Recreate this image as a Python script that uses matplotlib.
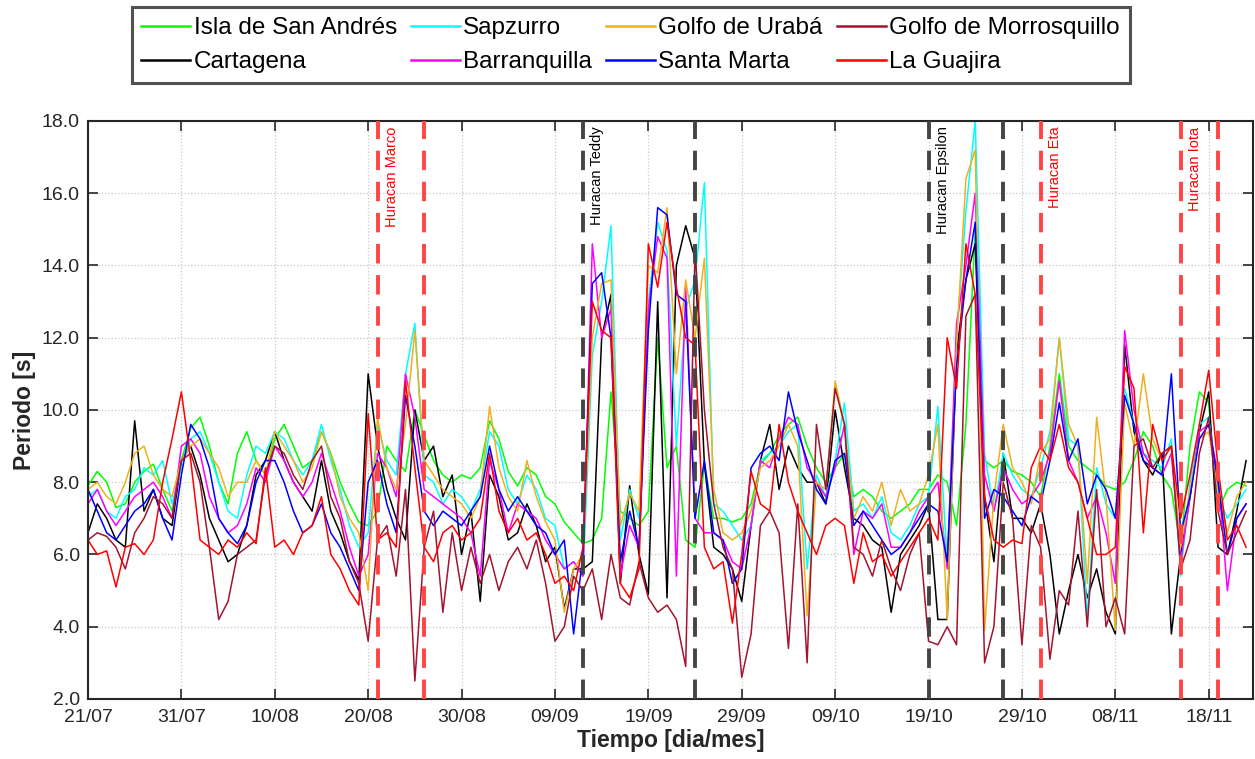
import matplotlib
matplotlib.use('Agg')
import matplotlib.pyplot as plt
import matplotlib.dates as mdates
import numpy as np
import pandas as pd

plt.rcParams['font.family'] = ['Liberation Sans', 'DejaVu Sans']

# daily wave period [s], 21/07/2020 .. 22/11/2020
fechas = pd.date_range('2020-07-21', periods=125, freq='D')

san_andres = [7.9, 8.3, 8.0, 7.3, 7.4, 8.0, 8.3, 8.5, 7.8, 7.2,
              8.6, 9.5, 9.8, 9.0, 8.0, 7.4, 8.8, 9.4, 8.6, 8.2,
              9.2, 9.6, 9.0, 8.4, 8.6, 9.4, 8.8, 8.0, 7.4, 6.9,
              6.8, 7.2, 9.0, 8.6, 8.3, 10.0, 9.3, 8.6, 8.2, 8.0,
              8.2, 8.1, 8.4, 9.7, 9.2, 8.3, 7.9, 8.4, 8.2, 7.6,
              7.4, 6.9, 6.6, 6.3, 6.4, 7.0, 10.5, 7.2, 7.0, 6.8,
              7.2, 12.0, 8.4, 9.0, 6.4, 6.2, 8.5, 7.0, 7.0, 6.9,
              7.0, 7.4, 8.5, 8.8, 9.3, 9.6, 9.8, 9.0, 8.4, 8.0,
              8.4, 8.8, 7.6, 7.8, 7.6, 7.2, 7.0, 7.2, 7.4, 7.8,
              7.8, 8.2, 8.0, 6.8, 9.6, 15.0, 8.6, 8.4, 8.6, 8.3,
              8.2, 8.0, 7.6, 9.0, 11.0, 9.0, 8.6, 8.4, 8.2, 7.9,
              7.8, 8.0, 8.6, 9.4, 9.0, 8.2, 7.8, 6.2, 9.0, 10.5,
              10.2, 7.2, 7.8, 8.0, 7.9]

cartagena = [6.6, 7.4, 7.0, 6.4, 6.2, 9.7, 7.2, 7.8, 7.0, 6.8,
             8.6, 9.0, 8.2, 7.0, 6.4, 5.8, 6.0, 6.8, 8.2, 8.6,
             9.4, 8.6, 8.0, 7.6, 7.2, 8.6, 7.2, 6.6, 5.8, 5.3,
             11.0, 9.0, 7.8, 7.0, 6.4, 10.0, 8.6, 9.0, 7.6, 8.2,
             6.0, 7.2, 4.7, 8.2, 7.6, 6.4, 6.6, 7.4, 6.8, 5.8,
             6.2, 4.5, 5.6, 5.6, 5.8, 12.0, 13.2, 5.2, 7.9, 6.0,
             4.9, 13.0, 4.8, 14.0, 15.1, 14.2, 8.5, 6.2, 6.0, 5.6,
             4.7, 6.8, 8.6, 9.6, 7.8, 9.0, 8.4, 8.0, 8.0, 7.4,
             10.0, 8.4, 7.0, 6.8, 6.4, 6.2, 4.4, 6.0, 6.4, 6.8,
             7.4, 4.2, 4.2, 11.6, 13.6, 14.6, 7.6, 5.8, 8.8, 7.0,
             7.0, 6.6, 7.4, 6.0, 3.8, 5.0, 6.0, 4.8, 5.6, 4.4,
             3.8, 11.8, 9.4, 8.6, 8.2, 8.8, 3.8, 6.0, 7.6, 9.4,
             10.5, 6.2, 6.0, 7.2, 8.6]

sapzurro = [7.6, 7.8, 7.2, 7.0, 7.6, 7.8, 8.4, 8.2, 8.6, 7.4,
            8.4, 9.2, 9.4, 8.8, 8.0, 7.2, 7.0, 8.2, 9.0, 8.8,
            9.4, 9.2, 8.6, 8.2, 8.6, 9.6, 8.6, 7.8, 6.8, 6.2,
            6.6, 9.6, 8.6, 8.2, 11.0, 12.4, 8.2, 8.0, 7.4, 7.8,
            7.6, 7.2, 7.8, 9.4, 9.0, 7.8, 7.4, 8.2, 7.8, 7.0,
            6.8, 5.6, 5.8, 5.4, 11.5, 13.0, 15.1, 6.4, 7.8, 7.0,
            13.0, 15.2, 14.4, 9.0, 12.8, 13.6, 16.3, 7.4, 7.2, 6.8,
            6.4, 6.8, 8.6, 8.8, 9.0, 9.4, 9.6, 5.6, 8.2, 7.6,
            8.6, 10.2, 7.2, 7.4, 7.0, 7.6, 6.6, 6.4, 6.8, 7.4,
            7.6, 10.1, 5.8, 12.0, 15.5, 18.0, 8.8, 7.2, 8.8, 8.2,
            7.8, 7.6, 8.4, 9.4, 12.0, 9.2, 9.0, 4.2, 8.4, 7.4,
            7.0, 10.6, 9.6, 8.8, 8.6, 8.4, 9.2, 5.4, 8.0, 9.6,
            9.8, 7.6, 7.0, 7.4, 7.8]

barranquilla = [7.4, 7.8, 7.2, 6.8, 7.2, 7.6, 7.8, 8.0, 7.6, 7.0,
                9.0, 9.2, 8.8, 7.6, 7.0, 6.6, 6.8, 7.4, 8.4, 8.0,
                9.0, 8.6, 8.0, 7.6, 8.0, 8.8, 8.0, 7.2, 6.2, 5.4,
                6.0, 8.8, 8.4, 7.6, 11.0, 9.8, 7.8, 7.6, 7.4, 7.2,
                7.0, 6.6, 5.4, 8.6, 7.8, 6.6, 7.4, 7.2, 7.0, 6.4,
                6.0, 5.6, 5.8, 5.4, 14.6, 12.0, 12.8, 5.4, 6.8, 6.2,
                12.8, 14.8, 14.2, 5.4, 13.4, 7.0, 6.6, 6.6, 6.4, 5.8,
                5.6, 6.8, 8.6, 8.4, 9.2, 9.8, 9.6, 8.4, 8.0, 7.6,
                8.4, 9.6, 6.0, 7.2, 7.0, 7.4, 6.2, 6.2, 6.6, 7.2,
                7.6, 8.0, 5.6, 12.4, 14.0, 16.0, 8.2, 7.2, 8.4, 7.8,
                7.4, 7.6, 8.0, 8.8, 10.8, 8.6, 8.0, 7.0, 7.6, 6.6,
                5.2, 12.2, 10.0, 8.8, 8.4, 8.2, 8.8, 5.8, 7.6, 9.4,
                9.6, 8.2, 5.0, 7.0, 7.4]

uraba = [7.8, 8.0, 7.6, 7.4, 8.0, 8.8, 9.0, 8.2, 7.8, 7.6,
         8.6, 9.0, 9.2, 8.8, 8.4, 7.6, 8.0, 8.0, 8.6, 8.2,
         9.4, 9.0, 8.6, 8.0, 8.4, 9.4, 8.8, 7.6, 7.0, 6.6,
         5.0, 9.8, 8.4, 7.8, 9.6, 12.2, 8.6, 8.2, 7.8, 7.6,
         7.4, 7.0, 7.6, 10.1, 8.4, 7.6, 7.2, 8.6, 7.6, 6.9,
         6.4, 4.4, 5.6, 6.0, 12.0, 13.5, 13.6, 6.8, 7.7, 7.2,
         14.0, 13.8, 15.6, 11.0, 13.6, 12.0, 14.2, 7.8, 6.6, 6.4,
         6.6, 7.2, 8.4, 8.6, 9.0, 9.6, 9.0, 4.3, 8.0, 7.8,
         10.8, 9.6, 7.0, 7.6, 7.2, 8.0, 6.8, 7.8, 7.2, 7.4,
         8.2, 9.6, 4.2, 11.8, 16.4, 17.2, 3.9, 7.6, 9.6, 8.4,
         8.0, 7.4, 8.8, 9.2, 12.0, 9.6, 9.0, 5.2, 9.8, 7.6,
         3.9, 10.2, 9.0, 11.0, 9.2, 8.6, 9.0, 6.2, 7.8, 9.2,
         9.4, 7.8, 6.6, 7.6, 8.0]

santa_marta = [7.8, 7.2, 6.6, 6.4, 6.8, 7.2, 7.4, 7.8, 7.0, 6.4,
               8.2, 9.6, 9.2, 8.4, 7.0, 6.6, 6.3, 6.8, 8.0, 8.6,
               8.6, 8.0, 7.2, 6.6, 6.8, 7.4, 6.6, 6.2, 5.6, 5.0,
               8.0, 8.6, 7.4, 6.6, 10.4, 9.0, 7.2, 6.8, 7.2, 7.0,
               6.8, 7.2, 7.6, 9.0, 7.8, 7.2, 7.6, 7.2, 6.8, 6.6,
               6.0, 6.4, 3.8, 6.0, 13.5, 13.8, 12.0, 5.8, 7.2, 6.2,
               12.2, 15.6, 15.4, 13.2, 13.0, 7.0, 8.6, 6.6, 6.4, 5.2,
               5.6, 8.4, 8.8, 9.0, 8.6, 10.5, 9.4, 8.6, 7.8, 7.4,
               8.6, 8.8, 6.8, 7.2, 6.8, 6.4, 6.0, 6.2, 6.6, 7.0,
               7.4, 7.2, 5.8, 11.2, 13.6, 15.2, 7.0, 7.8, 7.6, 7.2,
               6.8, 7.6, 7.4, 8.6, 10.2, 8.6, 9.2, 7.4, 8.2, 7.8,
               7.0, 10.4, 9.6, 8.6, 8.4, 8.2, 11.0, 6.6, 7.6, 9.2,
               9.6, 8.0, 6.0, 7.0, 7.4]

morrosquillo = [6.4, 6.6, 6.5, 6.2, 5.6, 6.6, 7.0, 7.6, 7.4, 7.0,
                8.6, 8.8, 8.0, 6.2, 4.2, 4.7, 6.0, 6.2, 6.4, 8.2,
                9.0, 8.8, 8.2, 7.8, 8.6, 9.0, 7.6, 7.0, 5.8, 5.2,
                3.6, 6.4, 6.8, 5.4, 7.8, 2.5, 6.2, 7.2, 4.4, 6.6,
                5.0, 6.2, 5.2, 6.0, 5.0, 5.8, 6.2, 5.6, 6.4, 5.2,
                3.6, 4.0, 5.4, 5.0, 5.6, 4.2, 6.0, 4.8, 4.6, 5.8,
                4.8, 4.4, 4.6, 4.2, 2.9, 14.5, 10.0, 7.4, 6.2, 5.6,
                2.6, 3.8, 6.8, 7.2, 6.6, 3.4, 7.4, 3.0, 9.6, 7.8,
                10.6, 9.6, 6.2, 6.0, 5.4, 6.4, 5.6, 5.0, 6.0, 6.6,
                3.6, 3.5, 4.0, 3.5, 12.6, 13.2, 3.0, 4.0, 8.0, 7.0,
                3.5, 6.8, 6.2, 3.1, 5.0, 4.6, 7.2, 4.0, 7.8, 4.0,
                4.8, 3.8, 9.0, 9.2, 8.4, 8.8, 9.0, 5.6, 6.4, 8.8,
                9.8, 7.2, 6.0, 6.6, 7.2]

guajira = [6.4, 6.0, 6.1, 5.1, 6.2, 6.3, 6.0, 6.4, 8.0, 9.2,
           10.5, 8.6, 6.4, 6.2, 6.0, 6.4, 6.2, 6.6, 6.3, 8.4,
           6.2, 6.4, 6.0, 6.6, 6.8, 7.6, 6.0, 5.6, 5.0, 4.6,
           9.9, 6.4, 6.6, 6.2, 10.8, 8.4, 6.2, 5.8, 6.6, 6.8,
           6.4, 6.6, 7.0, 8.8, 7.2, 6.6, 7.0, 6.4, 6.6, 6.0,
           5.2, 5.4, 5.0, 6.2, 13.0, 12.2, 12.0, 5.2, 4.8, 5.6,
           14.6, 13.4, 15.2, 13.4, 12.0, 11.8, 6.2, 5.6, 5.8, 4.1,
           6.0, 8.3, 7.4, 7.2, 9.6, 8.0, 7.2, 6.6, 6.0, 6.8,
           7.0, 6.8, 5.2, 6.6, 5.8, 6.0, 5.4, 5.8, 6.2, 6.6,
           7.0, 6.4, 12.0, 10.6, 14.6, 13.2, 7.6, 6.4, 6.2, 6.4,
           6.3, 8.4, 9.0, 8.6, 9.6, 8.4, 8.0, 7.0, 6.0, 6.0,
           6.2, 11.2, 10.6, 6.6, 9.6, 8.6, 9.0, 7.0, 8.2, 9.6,
           11.1, 8.4, 6.4, 6.8, 6.2]

estaciones = ['Isla de San Andrés', 'Cartagena', 'Sapzurro', 'Barranquilla',
              'Golfo de Urabá', 'Santa Marta', 'Golfo de Morrosquillo', 'La Guajira']
series = [san_andres, cartagena, sapzurro, barranquilla,
          uraba, santa_marta, morrosquillo, guajira]
colores = ['#00FF00', '#000000', '#00FFFF', '#FF00FF',
           '#EDB120', '#0000FF', '#A2142F', '#FF0000']

# hurricane markers
lineas_fecha = ['2020-08-21', '2020-08-26', '2020-09-12', '2020-09-24', '2020-10-19',
                '2020-10-27', '2020-10-31', '2020-11-15', '2020-11-19']
lineas_color = ['#FF4444', '#FF4444', '#444444', '#444444', '#444444',
                '#444444', '#FF4444', '#FF4444', '#FF4444']
huracanes = ['Huracan Marco', 'Huracan Teddy', 'Huracan Epsilon', 'Huracan Eta', 'Huracan Iota']
huracan_fecha = ['2020-08-21', '2020-09-12', '2020-10-19', '2020-10-31', '2020-11-15']
huracan_color = ['#FF0000', '#000000', '#000000', '#FF0000', '#FF0000']

fig = plt.figure(figsize=(12.55, 7.59), dpi=100)
ax = fig.add_axes([0.0701, 0.0791, 0.928, 0.7615])

lineas = []
for nombre, datos, c in zip(estaciones, series, colores):
    l, = ax.plot(fechas, datos, color=c, lw=1.1, label=nombre)
    lineas.append(l)

for f, c in zip(lineas_fecha, lineas_color):
    ax.axvline(pd.Timestamp(f), color=c, lw=2.8, ls=(0, (5, 3)), zorder=5)

for nombre, f, c in zip(huracanes, huracan_fecha, huracan_color):
    ax.text(pd.Timestamp(f) + pd.Timedelta(days=1.5), 17.85, nombre, rotation=90,
            ha='center', va='top', color=c, fontsize=10.5, zorder=6)

t0 = pd.Timestamp('2020-07-21')
ax.set_xlim(t0, t0 + pd.Timedelta(days=124.7))
ax.set_ylim(2, 18)
ax.set_xticks(pd.date_range('2020-07-21', periods=13, freq='10D'))
ax.xaxis.set_major_formatter(mdates.DateFormatter('%d/%m'))
ax.set_yticks(np.arange(2, 18.1, 2))
ax.yaxis.set_major_formatter(matplotlib.ticker.FormatStrFormatter('%.1f'))
ax.tick_params(direction='in', length=7, width=1.2, top=True, right=True,
               labelsize=14, colors='#262626')
ax.tick_params(axis='x', pad=7.5)
ax.tick_params(axis='y', pad=6)
ax.grid(True, ls=':', color='#c8c8c8', lw=0.9)
for s in ax.spines.values():
    s.set_color('#262626')
    s.set_linewidth(1.5)

ax.set_xlabel('Tiempo [dia/mes]', fontsize=16.5, fontweight='bold', color='#262626', labelpad=2)
ax.set_ylabel('Periodo [s]', fontsize=16.5, fontweight='bold', color='#262626', labelpad=4)

leg = fig.legend(handles=lineas, ncol=4, loc='lower left', mode='expand',
                 bbox_to_anchor=(0.105, 0.8906, 0.795, 0.1028), fontsize=17.5,
                 frameon=True, fancybox=False, handlelength=2.0, handletextpad=0.15,
                 borderaxespad=0, borderpad=0.4, labelspacing=0.5, columnspacing=0.6)
leg.get_frame().set_edgecolor('#262626')
leg.get_frame().set_linewidth(2.2)
for h in leg.get_lines():
    h.set_linewidth(1.8)

plt.savefig('out.png', dpi=100)
